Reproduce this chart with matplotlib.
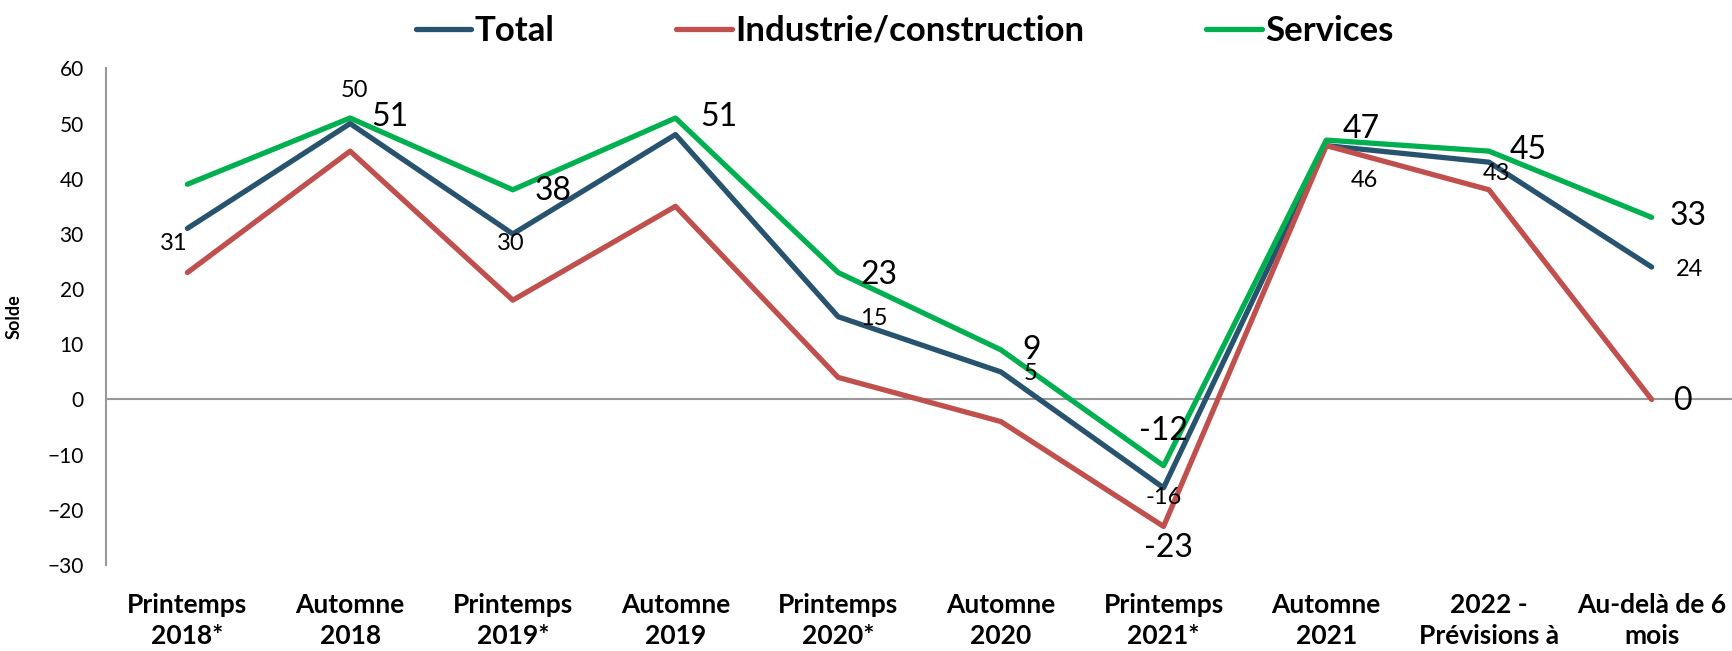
import matplotlib
matplotlib.use("Agg")
import matplotlib.pyplot as plt

plt.rcParams["font.family"] = ["Lato", "DejaVu Sans"]

categories = ["Printemps\n2018*", "Automne\n2018", "Printemps\n2019*", "Automne\n2019",
              "Printemps\n2020*", "Automne\n2020", "Printemps\n2021*", "Automne\n2021",
              "2022 -\nPrévisions à\n6 mois", "Au-delà de 6\nmois"]
total = [31, 50, 30, 48, 15, 5, -16, 46, 43, 24]
industrie = [23, 45, 18, 35, 4, -4, -23, 46, 38, 0]
services = [39, 51, 38, 51, 23, 9, -12, 47, 45, 33]

# which points carry a label, and where (offset in pixels from the point)
total_labels = {0: (-14, -15), 1: (4, 33), 2: (-2, -10), 4: (36, -2), 5: (30, -2),
                6: (0, -10), 7: (38, -35), 8: (8, -11), 9: (38, -2)}
services_labels = {1: (40, 1), 2: (40, -1), 3: (43, 1), 4: (41, -2), 5: (31, 0),
                   6: (0, 35), 7: (35, 11), 8: (39, 1), 9: (36, 1)}
industrie_labels = {6: (5, -22), 9: (32, -2)}

c_total = "#28536F"
c_ind = "#C0504D"
c_serv = "#00B050"

fig = plt.figure(figsize=(17.33, 6.51), dpi=100)
ax = fig.add_axes([0.0612, 0.132, 0.9388, 0.763])

x = range(len(categories))
ax.plot(x, total, color=c_total, lw=3.8, label="Total", solid_capstyle="round")
ax.plot(x, industrie, color=c_ind, lw=3.8, label="Industrie/construction", solid_capstyle="round")
ax.plot(x, services, color=c_serv, lw=3.8, label="Services", solid_capstyle="round")

for i, (dx, dy) in total_labels.items():
    ax.annotate(str(total[i]), (i, total[i]), xytext=(dx, dy), textcoords="offset pixels",
                ha="center", va="center", fontsize=17)
for i, (dx, dy) in services_labels.items():
    ax.annotate(str(services[i]), (i, services[i]), xytext=(dx, dy), textcoords="offset pixels",
                ha="center", va="center", fontsize=23)
for i, (dx, dy) in industrie_labels.items():
    ax.annotate(str(industrie[i]), (i, industrie[i]), xytext=(dx, dy), textcoords="offset pixels",
                ha="center", va="center", fontsize=23)

ax.axhline(0, color="#999999", lw=1.5, zorder=0)
ax.set_xlim(-0.5, 9.5)
ax.set_ylim(-30, 60)
ax.set_yticks(range(-30, 61, 10))
ax.set_xticks(list(x))
ax.set_xticklabels(categories, fontsize=19, fontweight="bold", va="top", linespacing=1.35)
ax.tick_params(axis="x", length=0, pad=20)
ax.tick_params(axis="y", length=0, pad=16, labelsize=15)
for s in ["top", "right", "bottom"]:
    ax.spines[s].set_visible(False)
ax.spines["left"].set_color("#999999")
ax.spines["left"].set_linewidth(1.5)
ax.set_ylabel("Solde", fontsize=13, fontweight="bold", labelpad=18)

fig.legend(loc="upper center", bbox_to_anchor=(0.522, 1.025), ncol=3, frameon=False,
           prop={"size": 25, "weight": "bold"}, handlelength=1.6, handletextpad=0.1,
           columnspacing=3.5)

fig.savefig("out.png", dpi=100)
